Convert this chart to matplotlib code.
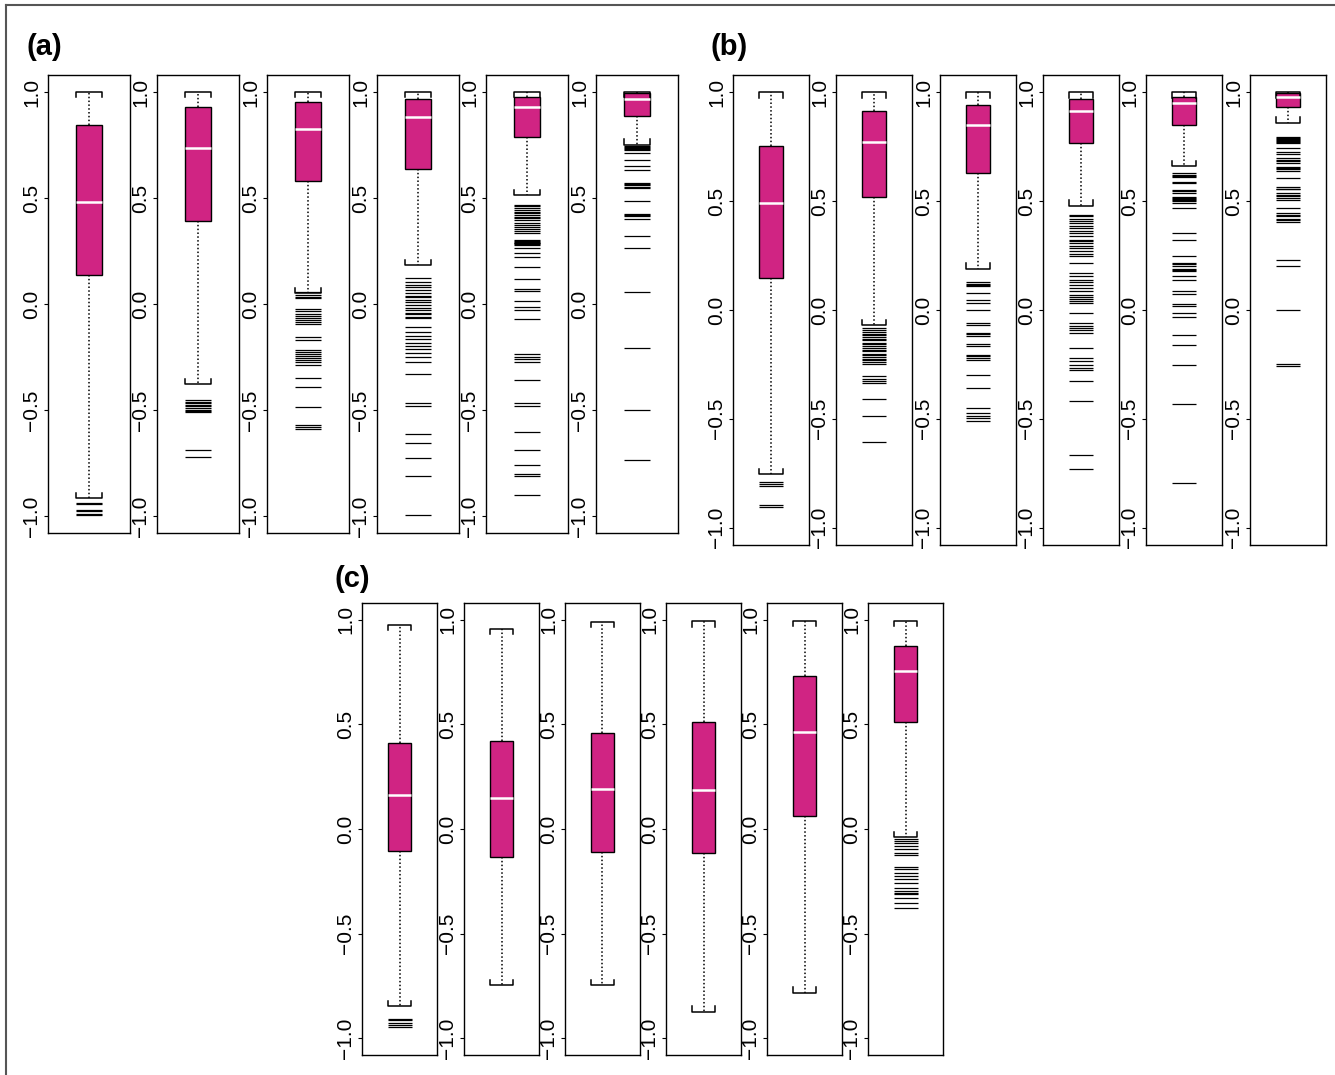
import matplotlib
matplotlib.use('Agg')
import matplotlib.pyplot as plt
from matplotlib.lines import Line2D

plt.rcParams['font.family'] = ['Liberation Sans', 'DejaVu Sans']

MAGENTA = '#D02483'

# ---- panel (a) ----
a_q1 = [0.137, 0.393, 0.580, 0.636, 0.787, 0.888]
a_med = [0.480, 0.734, 0.826, 0.882, 0.928, 0.965]
a_q3 = [0.844, 0.928, 0.951, 0.967, 0.976, 0.995]
a_lo = [-0.917, -0.377, 0.050, 0.184, 0.515, 0.751]
a_hi = [1.0, 1.0, 1.0, 1.0, 1.0, 1.0]
a_out = [
    [-0.94, -0.945, -0.97, -0.975, -0.99, -0.995],
    [-0.455, -0.46, -0.468, -0.475, -0.482, -0.49, -0.498, -0.505, -0.51, -0.69, -0.72],
    [0.058, 0.042, 0.034, 0.027, -0.025, -0.035, -0.045, -0.055, -0.065, -0.075, -0.085,
     -0.094, -0.154, -0.17, -0.217, -0.225, -0.235, -0.245, -0.255, -0.265, -0.275,
     -0.288, -0.351, -0.393, -0.484, -0.571, -0.578, -0.59],
    [0.121, 0.105, 0.09, 0.078, 0.066, 0.05, 0.04, 0.031, 0.02, 0.011, -0.005, -0.02,
     -0.03, -0.041, -0.047, -0.06, -0.065, -0.107, -0.13, -0.151, -0.167, -0.186, -0.198,
     -0.214, -0.23, -0.249, -0.272, -0.328, -0.466, -0.48, -0.611, -0.655, -0.726,
     -0.813, -0.997],
    [0.468, 0.46, 0.452, 0.444, 0.436, 0.428, 0.42, 0.412, 0.405, 0.395, 0.381, 0.373,
     0.365, 0.355, 0.346, 0.334, 0.302, 0.298, 0.294, 0.29, 0.287, 0.283, 0.279, 0.263,
     0.239, 0.224, 0.173, 0.117, 0.069, 0.063, 0.016, -0.016, -0.028, -0.072, -0.236,
     -0.249, -0.261, -0.272, -0.359, -0.469, -0.482, -0.603, -0.687, -0.757, -0.8,
     -0.813, -0.902],
    [0.745, 0.74, 0.735, 0.73, 0.725, 0.712, 0.68, 0.652, 0.633, 0.57, 0.565, 0.56,
     0.554, 0.546, 0.488, 0.425, 0.418, 0.413, 0.4, 0.323, 0.266, 0.058, -0.209, -0.5,
     -0.734],
]

# ---- panel (b) ----
b_q1 = [0.147, 0.518, 0.628, 0.766, 0.849, 0.934]
b_med = [0.491, 0.771, 0.850, 0.914, 0.953, 0.977]
b_q3 = [0.754, 0.914, 0.942, 0.968, 0.980, 0.995]
b_lo = [-0.755, -0.070, 0.190, 0.479, 0.662, 0.860]
b_hi = [1.0, 1.0, 1.0, 1.0, 1.0, 1.0]
b_out = [
    [-0.79, -0.80, -0.81, -0.895, -0.905],
    [-0.083, -0.09, -0.1, -0.108, -0.115, -0.125, -0.135, -0.14, -0.15, -0.158, -0.165,
     -0.175, -0.183, -0.19, -0.2, -0.208, -0.215, -0.225, -0.232, -0.24, -0.25, -0.304,
     -0.315, -0.325, -0.335, -0.408, -0.485, -0.607],
    [0.127, 0.12, 0.115, 0.109, 0.078, 0.047, 0.032, -0.002, -0.06, -0.067, -0.105,
     -0.112, -0.12, -0.156, -0.164, -0.205, -0.212, -0.22, -0.228, -0.297, -0.358,
     -0.45, -0.473, -0.485, -0.497, -0.511],
    [0.437, 0.43, 0.417, 0.407, 0.399, 0.387, 0.376, 0.365, 0.353, 0.338, 0.322, 0.315,
     0.307, 0.295, 0.284, 0.269, 0.258, 0.246, 0.216, 0.17, 0.154, 0.139, 0.127, 0.116,
     0.101, 0.086, 0.07, 0.06, 0.05, 0.04, 0.032, -0.014, -0.06, -0.072, -0.083, -0.093,
     -0.106, -0.174, -0.22, -0.235, -0.251, -0.266, -0.274, -0.324, -0.416, -0.668,
     -0.729],
    [0.628, 0.622, 0.617, 0.613, 0.59, 0.583, 0.552, 0.545, 0.537, 0.521, 0.515, 0.51,
     0.504, 0.499, 0.494, 0.468, 0.353, 0.322, 0.249, 0.218, 0.21, 0.2, 0.19, 0.183,
     0.177, 0.154, 0.136, 0.087, 0.072, 0.028, 0.017, -0.015, -0.03, -0.117, -0.162,
     -0.251, -0.431, -0.794],
    [0.796, 0.79, 0.785, 0.78, 0.775, 0.77, 0.766, 0.743, 0.728, 0.717, 0.697, 0.69,
     0.683, 0.677, 0.659, 0.652, 0.646, 0.64, 0.606, 0.564, 0.558, 0.555, 0.537, 0.53,
     0.522, 0.514, 0.506, 0.471, 0.445, 0.437, 0.43, 0.42, 0.413, 0.406, 0.231, 0.2,
     -0.002, -0.246, -0.259],
]

# ---- panel (c) ----
c_q1 = [-0.106, -0.133, -0.110, -0.117, 0.061, 0.510]
c_med = [0.163, 0.149, 0.189, 0.184, 0.463, 0.757]
c_q3 = [0.410, 0.422, 0.459, 0.510, 0.730, 0.876]
c_lo = [-0.846, -0.747, -0.747, -0.873, -0.782, -0.037]
c_hi = [0.976, 0.957, 0.989, 0.992, 0.995, 0.995]
c_out = [
    [-0.906, -0.915, -0.925, -0.935, -0.945],
    [],
    [],
    [],
    [],
    [-0.047, -0.058, -0.069, -0.082, -0.095, -0.114, -0.122, -0.181, -0.193, -0.209,
     -0.225, -0.241, -0.257, -0.281, -0.297, -0.305, -0.313, -0.329, -0.352, -0.376],
]

tick_vals = [-1.0, -0.5, 0.0, 0.5, 1.0]
tick_labels = [f'{v:.1f}'.replace('-', '\u2212') for v in tick_vals]

W, H = 1335, 1075
fig = plt.figure(figsize=(W / 100, H / 100), dpi=100)


def draw_box(left, top, bottom, width, q1, med, q3, lo, hi, out, bw=0.31):
    ax = fig.add_axes([left / W, 1 - bottom / H, width / W, (bottom - top) / H])
    box_pts = width * bw * 0.72
    stats = [dict(med=med, q1=q1, q3=q3, whislo=lo, whishi=hi, fliers=out)]
    ax.bxp(stats, positions=[1], widths=[bw], patch_artist=True, showcaps=False,
           boxprops=dict(facecolor=MAGENTA, edgecolor='black', linewidth=1),
           medianprops=dict(color='white', linewidth=1.8),
           whiskerprops=dict(color='black', linestyle=(0, (1, 1.5)), linewidth=1.1),
           flierprops=dict(marker='_', markersize=box_pts, markeredgewidth=0.9,
                           markeredgecolor='black', linestyle='none'))
    # bracket-shaped staples
    hw = bw / 2
    d = 0.025
    ax.plot([1 - hw, 1 - hw, 1 + hw, 1 + hw], [hi - d, hi, hi, hi - d],
            color='black', lw=1.1)
    ax.plot([1 - hw, 1 - hw, 1 + hw, 1 + hw], [lo + d, lo, lo, lo + d],
            color='black', lw=1.1)
    ax.set_xlim(0.5, 1.5)
    ax.set_ylim(-1.08, 1.08)
    ax.set_xticks([])
    ax.set_yticks(tick_vals)
    ax.set_yticklabels(tick_labels, rotation=90, va='center')
    ax.tick_params(axis='y', length=3, width=0.8, pad=2, labelsize=15)
    for s in ax.spines.values():
        s.set_linewidth(1)
    return ax


a_left = [48, 157, 267, 377, 486, 596]
for i in range(6):
    draw_box(a_left[i], 75, 533, 82, a_q1[i], a_med[i], a_q3[i], a_lo[i], a_hi[i], a_out[i])

b_left = [733, 836, 940, 1043, 1146, 1250]
for i in range(6):
    draw_box(b_left[i], 75, 545, 76, b_q1[i], b_med[i], b_q3[i], b_lo[i], b_hi[i], b_out[i])

c_left = [362, 464, 565, 666, 767, 868]
for i in range(6):
    draw_box(c_left[i], 603, 1055, 75, c_q1[i], c_med[i], c_q3[i], c_lo[i], c_hi[i], c_out[i])

fig.text(27 / W, 1 - 47 / H, '(a)', fontsize=21, fontweight='bold', va='center')
fig.text(710 / W, 1 - 47 / H, '(b)', fontsize=21, fontweight='bold', va='center')
fig.text(334 / W, 1 - 579 / H, '(c)', fontsize=21, fontweight='bold', va='center')

# outer frame (top and left edges)
fig.add_artist(Line2D([6 / W, 6 / W], [0, 1 - 5 / H], transform=fig.transFigure,
                      color='#555555', lw=1.5))
fig.add_artist(Line2D([6 / W, 1], [1 - 5 / H, 1 - 5 / H], transform=fig.transFigure,
                      color='#555555', lw=1.5))

fig.savefig('out.png', dpi=100)
